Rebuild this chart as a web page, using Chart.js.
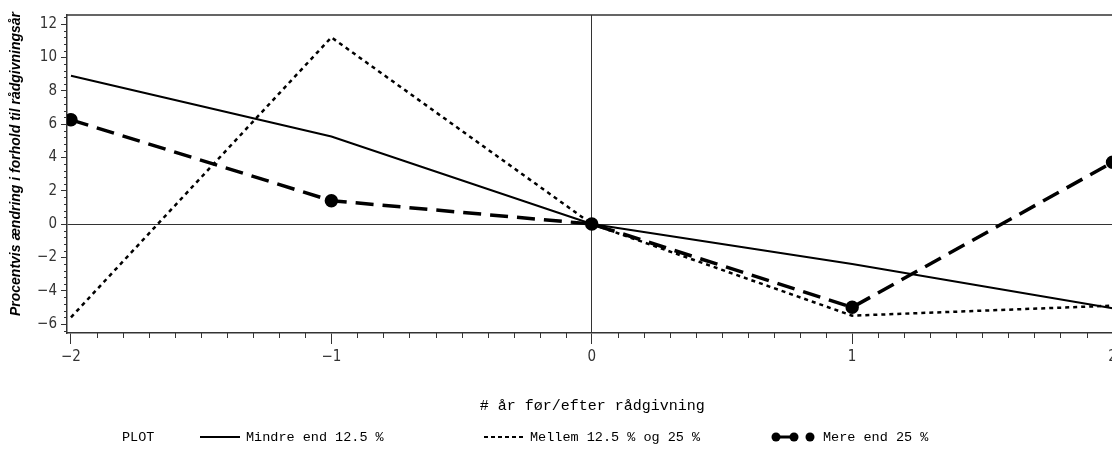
<!DOCTYPE html>
<html>
<head>
<meta charset="utf-8">
<script src="https://cdn.jsdelivr.net/npm/chart.js@4.4.0/dist/chart.umd.min.js"></script>
<style>
    html, body { margin: 0; padding: 0; background: #fff; overflow: hidden; }
    #wrap { width: 1112px; height: 449px; overflow: hidden; }
    #box { width: 1126px; height: 449px; position: relative; }
</style>
</head>
<body>
<div id="wrap"><div id="box"><canvas id="chart"></canvas></div></div>
<script>
// data
const years = [-2, -1, 0, 1, 2];
const mindre = [8.9, 5.25, 0, -2.4, -5.05];
const mellem = [-5.6, 11.2, 0, -5.5, -4.9];
const mere = [6.25, 1.4, 0, -5.0, 3.7];
const seriesNames = ['Mindre end 12.5 %', 'Mellem 12.5 % og 25 %', 'Mere end 25 %'];
const xTicks = [-2, -1, 0, 1, 2];
const yTicks = [-6, -4, -2, 0, 2, 4, 6, 8, 10, 12];
const xTitle = '# år før/efter rådgivning';
const yTitle = 'Procentvis ændring i forhold til rådgivningsår';

const INK = '#333';
const legendFont = '13.5px "Liberation Mono", "DejaVu Sans Mono", monospace';
const tickFamily = '"Liberation Sans Narrow", "DejaVu Sans Condensed", "Liberation Sans", sans-serif';

const pts = vals => years.map((x, i) => ({ x: x, y: vals[i] }));
const minus = v => (v < 0 ? '\u2212' + Math.abs(v) : String(v));

// minor ticks, top frame, y title and the PLOT legend
const decorPlugin = {
    id: 'decor',
    afterDraw(chart) {
        const ctx = chart.ctx;
        const xs = chart.scales.x, ys = chart.scales.y;
        const a = chart.chartArea;
        ctx.save();
        ctx.strokeStyle = INK;
        ctx.lineWidth = 1;

        ctx.beginPath();
        for (let i = -20; i <= 20; i++) {
            if (i % 10 === 0) continue;
            const px = Math.round(xs.getPixelForValue(i / 10)) + 0.5;
            ctx.moveTo(px, a.bottom);
            ctx.lineTo(px, a.bottom + 5);
        }
        for (let i = -16; i <= 31; i++) {
            if (i % 5 === 0) continue;
            const py = Math.round(ys.getPixelForValue(i * 0.4)) + 0.5;
            ctx.moveTo(a.left - 3, py);
            ctx.lineTo(a.left, py);
        }
        ctx.stroke();

        ctx.beginPath();
        ctx.lineWidth = 1.5;
        ctx.moveTo(a.left, a.top);
        ctx.lineTo(a.right, a.top);
        ctx.lineTo(a.right, a.bottom);
        ctx.stroke();

        // y title
        ctx.save();
        ctx.translate(16, 164);
        ctx.rotate(-Math.PI / 2);
        ctx.fillStyle = '#000';
        ctx.font = 'italic bold 14px "Liberation Sans", Arial, sans-serif';
        ctx.textAlign = 'center';
        ctx.textBaseline = 'middle';
        ctx.fillText(yTitle, 0, 0);
        ctx.restore();

        // legend row
        const ly = 437;
        ctx.font = legendFont;
        ctx.fillStyle = '#000';
        ctx.textBaseline = 'middle';
        ctx.textAlign = 'left';
        ctx.fillText('PLOT', 122, ly);

        ctx.strokeStyle = '#000';
        ctx.lineWidth = 2;
        ctx.beginPath();
        ctx.moveTo(200, ly); ctx.lineTo(240, ly);
        ctx.stroke();
        ctx.fillText(seriesNames[0], 246, ly);

        ctx.setLineDash([4, 3]);
        ctx.beginPath();
        ctx.moveTo(484, ly); ctx.lineTo(524, ly);
        ctx.stroke();
        ctx.setLineDash([]);
        ctx.fillText(seriesNames[1], 530, ly);

        ctx.lineWidth = 3;
        ctx.beginPath();
        ctx.moveTo(776, ly); ctx.lineTo(794, ly);
        ctx.stroke();
        [776, 794, 810].forEach(cx => {
            ctx.beginPath();
            ctx.arc(cx, ly, 4.5, 0, Math.PI * 2);
            ctx.fill();
        });
        ctx.fillText(seriesNames[2], 823, ly);
        ctx.restore();
    }
};

new Chart(document.getElementById('chart'), {
    type: 'line',
    data: {
        datasets: [
            {
                label: seriesNames[0],
                data: pts(mindre),
                borderColor: '#000',
                borderWidth: 2,
                pointRadius: 0
            },
            {
                label: seriesNames[1],
                data: pts(mellem),
                borderColor: '#000',
                borderWidth: 2.5,
                borderDash: [4, 4],
                pointRadius: 0
            },
            {
                label: seriesNames[2],
                data: pts(mere),
                borderColor: '#000',
                borderWidth: 3.5,
                borderDash: [18, 9],
                pointRadius: 5,
                pointBackgroundColor: '#000',
                pointBorderColor: '#000'
            }
        ]
    },
    options: {
        animation: false,
        responsive: true,
        maintainAspectRatio: false,
        devicePixelRatio: 1,
        layout: { padding: { left: 0, top: 15, right: 6, bottom: 0 } },
        plugins: {
            legend: { display: false },
            tooltip: { enabled: false }
        },
        scales: {
            x: {
                type: 'linear',
                min: -2.0153,
                max: 2.019,
                afterBuildTicks: s => { s.ticks = xTicks.map(v => ({ value: v })); },
                afterFit: s => { s.height = 116; },
                ticks: {
                    color: INK,
                    padding: 4,
                    maxRotation: 0,
                    font: { family: tickFamily, size: 15 },
                    callback: v => minus(v)
                },
                grid: {
                    color: c => (c.tick && c.tick.value === 0 ? INK : 'rgba(0,0,0,0)'),
                    tickColor: INK,
                    tickLength: 11,
                    lineWidth: 1
                },
                border: { display: true, color: INK, width: 1.5 },
                title: {
                    display: true,
                    text: xTitle,
                    color: '#000',
                    font: { family: '"Liberation Mono", "DejaVu Sans Mono", monospace', size: 15 },
                    padding: { top: 0, bottom: 34 }
                }
            },
            y: {
                min: -6.54,
                max: 12.54,
                afterBuildTicks: s => { s.ticks = yTicks.map(v => ({ value: v })); },
                afterFit: s => { s.width = 67; },
                ticks: {
                    color: INK,
                    padding: 4,
                    font: { family: tickFamily, size: 15 },
                    callback: v => minus(v)
                },
                grid: {
                    color: c => (c.tick && c.tick.value === 0 ? INK : 'rgba(0,0,0,0)'),
                    tickColor: INK,
                    tickLength: 6,
                    lineWidth: 1
                },
                border: { display: true, color: INK, width: 1.5 }
            }
        }
    },
    plugins: [decorPlugin]
});
</script>
</body>
</html>
